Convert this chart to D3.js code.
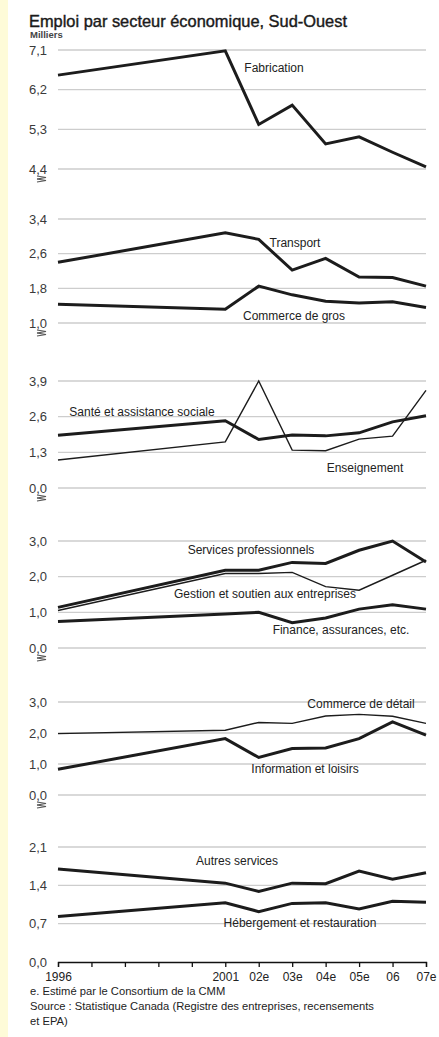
<!DOCTYPE html>
<html><head><meta charset="utf-8">
<script src="https://cdn.jsdelivr.net/npm/d3@7"></script>
<style>body{margin:0;background:#fff}svg{display:block}</style>
</head><body>
<svg id="c" width="439" height="1037"></svg>
<script>
// ---- data ----
const years = [1996, 2001, 2002, 2003, 2004, 2005, 2006, 2007];
const axisYears = [1996, 1997, 1998, 1999, 2000, 2001, 2002, 2003, 2004, 2005, 2006, 2007];
const axisLabels = ["1996", "", "", "", "", "2001", "02e", "03e", "04e", "05e", "06", "07e"];

const fabrication    = [6.53, 7.08, 5.41, 5.85, 4.97, 5.13, 4.78, 4.45];
const transport      = [2.40, 3.08, 2.93, 2.22, 2.49, 2.06, 2.05, 1.85];
const commerceGros   = [1.43, 1.32, 1.85, 1.65, 1.50, 1.46, 1.49, 1.36];
const sante          = [1.92, 2.45, 1.77, 1.93, 1.90, 2.01, 2.41, 2.63];
const enseignement   = [1.02, 1.68, 3.90, 1.38, 1.36, 1.78, 1.89, 3.56];
const servicesPro    = [1.14, 2.18, 2.18, 2.40, 2.37, 2.74, 3.00, 2.41];
const gestion        = [1.05, 2.09, 2.09, 2.12, 1.72, 1.62, 2.04, 2.46];
const finance        = [0.74, 0.95, 1.00, 0.71, 0.84, 1.09, 1.21, 1.09];
const commerceDetail = [1.98, 2.09, 2.34, 2.31, 2.55, 2.60, 2.54, 2.31];
const information    = [0.83, 1.82, 1.21, 1.50, 1.52, 1.82, 2.36, 1.93];
const autres         = [1.70, 1.44, 1.29, 1.44, 1.43, 1.66, 1.51, 1.63];
const hebergement    = [0.83, 1.08, 0.92, 1.07, 1.08, 0.97, 1.11, 1.09];

const ticks1 = [4.4, 5.3, 6.2, 7.1];
const ticks2 = [1.0, 1.8, 2.6, 3.4];
const ticks3 = [0.0, 1.3, 2.6, 3.9];
const ticks4 = [0.0, 1.0, 2.0, 3.0];
const ticks5 = [0.0, 1.0, 2.0, 3.0];
const ticks6 = [0.0, 0.7, 1.4, 2.1];

const title = "Emploi par secteur économique, Sud-Ouest";
const unit = "Milliers";
const notes = ["e.  Estimé par le Consortium de la CMM",
               "Source : Statistique Canada (Registre des entreprises, recensements",
               "et EPA)"];

// ---- layout ----
const FONT = "'Liberation Sans', Arial, sans-serif";
const X0 = 58, X1 = 426;
const x = d3.scaleLinear().domain([1996, 2007]).range([X0, X1]);

const panels = [
  {ticks: ticks1, top: 50, bottom: 169, series: [
    {v: fabrication, thick: true, name: "Fabrication", lx: 274, ly: 68}]},
  {ticks: ticks2, top: 219, bottom: 323, series: [
    {v: transport, thick: true, name: "Transport", lx: 295, ly: 243},
    {v: commerceGros, thick: true, name: "Commerce de gros", lx: 294, ly: 316}]},
  {ticks: ticks3, top: 381, bottom: 488, series: [
    {v: enseignement, thick: false, name: "Enseignement", lx: 365, ly: 468},
    {v: sante, thick: true, name: "Santé et assistance sociale", lx: 142, ly: 412}]},
  {ticks: ticks4, top: 541, bottom: 648, series: [
    {v: gestion, thick: false, name: "Gestion et soutien aux entreprises", lx: 265, ly: 594},
    {v: servicesPro, thick: true, name: "Services professionnels", lx: 251, ly: 550},
    {v: finance, thick: true, name: "Finance, assurances, etc.", lx: 341, ly: 630}]},
  {ticks: ticks5, top: 702, bottom: 795, series: [
    {v: commerceDetail, thick: false, name: "Commerce de détail", lx: 361, ly: 704},
    {v: information, thick: true, name: "Information et loisirs", lx: 305, ly: 769}]},
  {ticks: ticks6, top: 847, bottom: 962, series: [
    {v: autres, thick: true, name: "Autres services", lx: 237, ly: 861},
    {v: hebergement, thick: true, name: "Hébergement et restauration", lx: 300, ly: 923}]}
];

const svg = d3.select("#c");
svg.append("rect").attr("x", 0).attr("y", 0).attr("width", 439).attr("height", 1037).attr("fill", "#fff");
svg.append("rect").attr("x", 0).attr("y", 0).attr("width", 8).attr("height", 1037).attr("fill", "#fefbd8");

svg.append("text").attr("x", 29).attr("y", 27).text(title)
  .attr("font-family", FONT).attr("font-size", 16.4).attr("fill", "#1a1a1a")
  .attr("stroke", "#1a1a1a").attr("stroke-width", 0.4);
svg.append("text").attr("x", 30).attr("y", 38).text(unit)
  .attr("font-family", FONT).attr("font-size", 9.5).attr("font-weight", "bold").attr("fill", "#444");

const fmt = d => d3.format(".1f")(d).replace(".", ",");

panels.forEach((p, i) => {
  const lo = d3.min(p.ticks), hi = d3.max(p.ticks);
  const y = d3.scaleLinear().domain([lo, hi]).range([p.bottom, p.top]);
  const g = svg.append("g");

  const grid = (i === panels.length - 1) ? p.ticks.filter(t => t !== lo) : p.ticks;
  g.selectAll("line.grid").data(grid).join("line")
    .attr("x1", X0).attr("x2", X1)
    .attr("y1", d => y(d)).attr("y2", d => y(d))
    .attr("stroke", "#cdcdcd").attr("stroke-width", 1.4);

  g.selectAll("text.tick").data(p.ticks).join("text")
    .attr("x", 47).attr("y", d => y(d) + 4.5)
    .attr("text-anchor", "end")
    .attr("font-family", FONT).attr("font-size", 13).attr("fill", "#3a3a3a")
    .text(fmt);

  // axis-break mark
  if (i < panels.length - 1) {
    const by = p.bottom + 7;
    [0, 3].forEach(o => {
      g.append("path")
        .attr("d", `M37,${by + o} L46,${by + o + 1.5} L37,${by + o + 3}`)
        .attr("fill", "none").attr("stroke", "#555").attr("stroke-width", 1.1);
    });
  }

  const line = d3.line().x((d, k) => x(years[k])).y(d => y(d));
  p.series.forEach(s => {
    g.append("path").attr("d", line(s.v))
      .attr("fill", "none").attr("stroke", "#1c1c1c")
      .attr("stroke-width", s.thick ? 3 : 1.4)
      .attr("stroke-linejoin", "miter").attr("stroke-linecap", "butt");
  });
  p.series.forEach(s => {
    g.append("text").attr("x", s.lx).attr("y", s.ly + 4)
      .attr("text-anchor", "middle")
      .attr("font-family", FONT).attr("font-size", 12).attr("fill", "#222")
      .text(s.name);
  });

  if (i === panels.length - 1) {
    const ax = d3.axisBottom(x).tickValues(axisYears).tickSize(5).tickSizeOuter(5)
      .tickFormat((d, k) => axisLabels[k]);
    const axg = g.append("g").attr("transform", `translate(0,${p.bottom})`).call(ax);
    axg.select(".domain").attr("stroke", "#111").attr("stroke-width", 1.3);
    axg.selectAll(".tick line").attr("stroke", "#111").attr("stroke-width", 1.3);
    axg.selectAll(".tick text").attr("font-family", FONT).attr("font-size", 12)
      .attr("fill", "#222").attr("dy", 0).attr("y", 19);
  }
});

svg.selectAll("text.note").data(notes).join("text")
  .attr("x", 30).attr("y", (d, k) => 995 + k * 15)
  .attr("font-family", FONT).attr("font-size", 11.2).attr("fill", "#222")
  .text(d => d);
</script>
</body></html>
